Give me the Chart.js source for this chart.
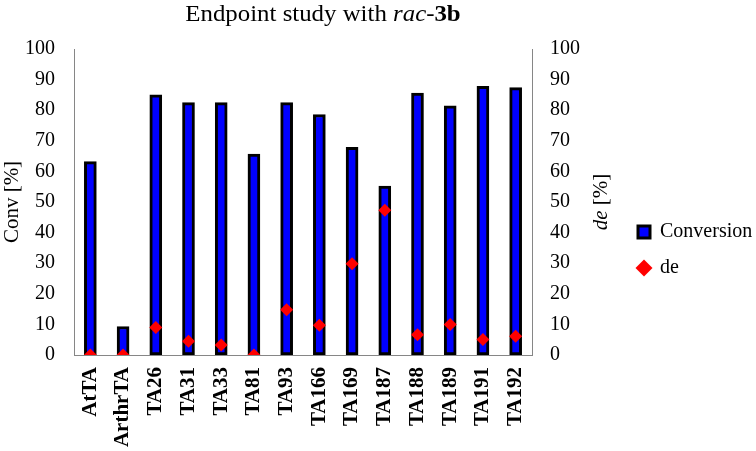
<!DOCTYPE html>
<html>
<head>
<meta charset="utf-8">
<script src="https://cdn.jsdelivr.net/npm/chart.js@4.4.1/dist/chart.umd.min.js"></script>
<style>
    html, body { margin: 0; padding: 0; background: #fff; }
    #wrap { width: 756px; height: 451px; }
</style>
</head>
<body>
<div id="wrap"><canvas id="myChart" width="756" height="451"></canvas></div>
<script>
// Enzymes tested
const enzymes = ['AtTA', 'ArthrTA', 'TA26', 'TA31', 'TA33', 'TA81', 'TA93', 'TA166', 'TA169', 'TA187', 'TA188', 'TA189', 'TA191', 'TA192'];
// Conversion [%] (left axis)
const conversion = [63.2, 9.3, 85.0, 82.5, 82.5, 65.7, 82.5, 78.6, 67.9, 55.2, 85.6, 81.4, 87.8, 87.4];
// de [%] (right axis)
const deValues = [0, 0, 9.0, 4.5, 3.3, 0, 14.8, 9.7, 29.8, 47.3, 6.6, 10.0, 5.1, 6.1];
// Axis range
const axisMin = 0;
const axisMax = 100;
const axisStep = 10;

const serif = "'Liberation Serif', 'Times New Roman', serif";
const axisGrey = '#868686';

// Title with italic / bold parts
const richTitle = {
    id: 'richTitle',
    afterDraw(chart) {
        const ctx = chart.ctx;
        const parts = [
            { t: 'Endpoint study with ', f: '23px ' + serif },
            { t: 'rac', f: 'italic 23px ' + serif },
            { t: '-', f: '23px ' + serif },
            { t: '3b', f: 'bold 23px ' + serif }
        ];
        ctx.save();
        let total = 0;
        parts.forEach(p => { ctx.font = p.f; p.w = ctx.measureText(p.t).width; total += p.w; });
        const sx = 1.08;
        ctx.translate(323, 21);
        ctx.scale(sx, 1);
        let x = -total / 2;
        ctx.fillStyle = '#000';
        ctx.textBaseline = 'alphabetic';
        parts.forEach(p => { ctx.font = p.f; ctx.fillText(p.t, x, 0); x += p.w; });
        ctx.restore();
    }
};

// Right axis title: italic "de" + " [%]"
const deAxisTitle = {
    id: 'deAxisTitle',
    afterDraw(chart) {
        const ctx = chart.ctx;
        const area = chart.chartArea;
        ctx.save();
        ctx.translate(601, (area.top + area.bottom) / 2);
        ctx.rotate(-Math.PI / 2);
        ctx.font = 'italic 21px ' + serif;
        const w1 = ctx.measureText('de').width;
        ctx.font = '21px ' + serif;
        const w2 = ctx.measureText(' [%]').width;
        let x = -(w1 + w2) / 2;
        ctx.fillStyle = '#000';
        ctx.textBaseline = 'middle';
        ctx.font = 'italic 21px ' + serif;
        ctx.fillText('de', x, 0);
        ctx.font = '21px ' + serif;
        ctx.fillText(' [%]', x + w1, 0);
        ctx.restore();
    }
};

// Keep the legend column narrow so it sits where the reference has it
const legendWidth = {
    id: 'legendWidth',
    beforeLayout(chart) {
        const lg = chart.legend;
        if (lg && !lg._fixedWidth) {
            const fit = lg.fit;
            lg.fit = function () {
                fit.call(this);
                this.width = 134;
            };
            lg._fixedWidth = true;
        }
    }
};

const ctx = document.getElementById('myChart').getContext('2d');
const myChart = new Chart(ctx, {
    type: 'bar',
    data: {
        labels: enzymes,
        datasets: [
            {
                type: 'line',
                label: 'de',
                data: deValues,
                yAxisID: 'y1',
                showLine: false,
                pointStyle: 'rectRot',
                pointRadius: 6.5,
                pointHoverRadius: 6.5,
                backgroundColor: '#FF0000',
                borderColor: '#FF0000',
                borderWidth: 0,
                order: 1
            },
            {
                label: 'Conversion',
                data: conversion,
                yAxisID: 'y',
                backgroundColor: '#0000FF',
                borderColor: '#000000',
                borderWidth: 3,
                borderSkipped: false,
                barThickness: 12,
                order: 2
            }
        ]
    },
    options: {
        responsive: false,
        animation: false,
        layout: { padding: { top: 49, right: 0, bottom: 0, left: 0 } },
        scales: {
            x: {
                offset: true,
                grid: { display: false, drawTicks: false },
                border: { display: true, color: axisGrey, width: 1 },
                ticks: {
                    color: '#000',
                    font: { family: serif, size: 21, weight: 'bold' },
                    minRotation: 90,
                    maxRotation: 90,
                    autoSkip: false,
                    padding: 12
                },
                afterFit(scale) { scale.height = 96; }
            },
            y: {
                position: 'left',
                min: axisMin,
                max: axisMax,
                grid: { display: false, drawTicks: false },
                border: { display: true, color: axisGrey, width: 1 },
                ticks: {
                    stepSize: axisStep,
                    color: '#000',
                    font: { family: serif, size: 20 },
                    padding: 19
                },
                title: {
                    display: true,
                    text: 'Conv [%]',
                    color: '#000',
                    font: { family: serif, size: 21 },
                    padding: { top: 0, bottom: 0 }
                },
                afterFit(scale) { scale.width = 74; }
            },
            y1: {
                position: 'right',
                min: axisMin,
                max: axisMax,
                grid: { display: false, drawTicks: false },
                border: { display: true, color: axisGrey, width: 1 },
                ticks: {
                    stepSize: axisStep,
                    color: '#000',
                    font: { family: serif, size: 20 },
                    padding: 18
                },
                afterFit(scale) { scale.width = 90; }
            }
        },
        plugins: {
            title: { display: false },
            tooltip: { enabled: false },
            legend: {
                display: true,
                position: 'right',
                reverse: true,
                labels: {
                    color: '#000',
                    font: { family: serif, size: 20 },
                    usePointStyle: true,
                    boxWidth: 12,
                    boxHeight: 12,
                    padding: 16,
                    generateLabels(chart) {
                        const items = Chart.defaults.plugins.legend.labels.generateLabels(chart);
                        items.forEach(it => {
                            if (it.text === 'Conversion') {
                                it.pointStyle = 'rect';
                                it.lineWidth = 3;
                                it.strokeStyle = '#000';
                                it.fillStyle = '#0000FF';
                            } else {
                                it.pointStyle = 'rectRot';
                                it.lineWidth = 0;
                                it.fillStyle = '#FF0000';
                                it.strokeStyle = '#FF0000';
                            }
                        });
                        return items;
                    }
                }
            }
        }
    },
    plugins: [richTitle, deAxisTitle, legendWidth]
});
</script>
</body>
</html>
